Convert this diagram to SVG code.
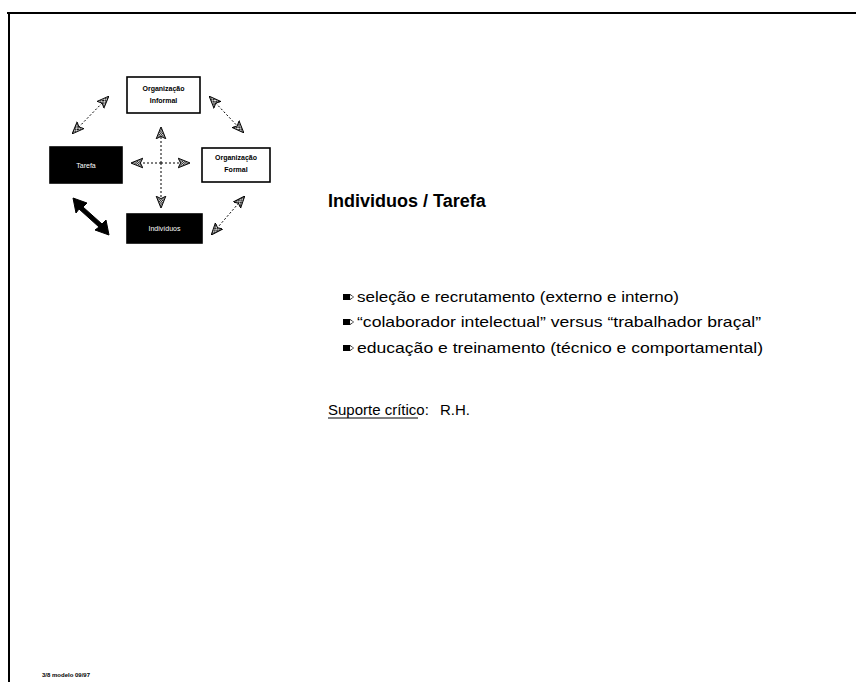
<svg xmlns="http://www.w3.org/2000/svg" width="856" height="682" viewBox="0 0 856 682">
  <style>
    .frame { stroke: #000; stroke-width: 2; fill: none; }
    .box-w { fill: #fff; stroke: #000; stroke-width: 1.6; }
    .box-b { fill: #000; stroke: #000; stroke-width: 1.6; }
    .lbl { font-family: "Liberation Sans", Arial, sans-serif; font-size: 7px; font-weight: bold; text-anchor: middle; }
    .lbl-w { font-family: "Liberation Sans", Arial, sans-serif; font-size: 7px; fill: #fff; text-anchor: middle; }
    .dash { stroke: #000; stroke-width: 1; stroke-dasharray: 2 2; fill: none; }
    .title { font-family: "Liberation Sans", Arial, sans-serif; font-size: 18px; font-weight: bold; }
    .body { font-family: "Liberation Sans", Arial, sans-serif; font-size: 15px; }
    .foot { font-family: "Liberation Sans", Arial, sans-serif; font-size: 6px; font-weight: bold; }
  </style>
  <defs>
    <pattern id="hatch" width="2" height="2" patternUnits="userSpaceOnUse">
      <rect width="2" height="2" fill="#fff"/>
      <rect width="1" height="1" fill="#000"/>
      <rect x="1" y="1" width="1" height="1" fill="#000"/>
    </pattern>
    <marker id="head" viewBox="0 0 10 10" refX="9" refY="5" markerWidth="12" markerHeight="12" orient="auto-start-reverse" markerUnits="userSpaceOnUse">
      <path d="M0,1 L10,5 L0,9 L2,5 Z" fill="url(#hatch)" stroke="#000" stroke-width="0.8"/>
    </marker>
    <g id="pencil">
      <path d="M-10,-3 L-3,-3 L1,0 L-3,3 L-10,3 Z" fill="#000"/>
      <path d="M-3,-2 L0.5,0 L-3,2 Z" fill="#fff"/>
    </g>
  </defs>

  <!-- page frame -->
  <path class="frame" d="M7,13 L856,13 M9,13 L9,682"/>

  <!-- connectors -->
  <g id="connectors">
    <line class="dash" x1="73" y1="133" x2="108" y2="97" marker-start="url(#head)" marker-end="url(#head)"/>
    <line class="dash" x1="210" y1="97" x2="243" y2="132" marker-start="url(#head)" marker-end="url(#head)"/>
    <line class="dash" x1="244" y1="197" x2="212" y2="234" marker-start="url(#head)" marker-end="url(#head)"/>
    <!-- heavy double arrow between Tarefa and Individuos -->
    <path d="M73,198 L87,203 L83,207 L102,224 L106,220 L109,235 L95,230 L99,227 L79,209 L76,213 Z" fill="#000" stroke="#000" stroke-width="1"/>
    <!-- central cross -->
    <line class="dash" x1="161" y1="163" x2="161" y2="128" marker-end="url(#head)" stroke-dasharray="1 2"/>
    <line class="dash" x1="161" y1="163" x2="161" y2="207" marker-end="url(#head)" stroke-dasharray="1 2"/>
    <line class="dash" x1="161" y1="163" x2="132" y2="163" marker-end="url(#head)" stroke-dasharray="1 2"/>
    <line class="dash" x1="161" y1="163" x2="189" y2="163" marker-end="url(#head)" stroke-dasharray="1 2"/>
  </g>

  <g id="org-informal">
    <rect class="box-w" x="127" y="77" width="73" height="36"/>
    <text class="lbl" x="163.5" y="91">Organização</text>
    <text class="lbl" x="163.5" y="103" font-weight="normal">Informal</text>
  </g>

  <g id="tarefa">
    <rect class="box-b" x="50" y="147" width="72" height="36"/>
    <text class="lbl-w" x="86" y="168">Tarefa</text>
  </g>

  <g id="org-formal">
    <rect class="box-w" x="202" y="148" width="68" height="34"/>
    <text class="lbl" x="236" y="160">Organização</text>
    <text class="lbl" x="236" y="172">Formal</text>
  </g>

  <g id="individuos">
    <rect class="box-b" x="127" y="214" width="75" height="29"/>
    <text class="lbl-w" x="164.5" y="231">Indivíduos</text>
  </g>

  <!-- text column -->
  <text class="title" x="328" y="207">Individuos / Tarefa</text>

  <use href="#pencil" x="353" y="297"/>
  <text class="body" x="357" y="302" textLength="322" lengthAdjust="spacingAndGlyphs">seleção e recrutamento (externo e interno)</text>
  <use href="#pencil" x="353" y="322"/>
  <text class="body" x="357" y="327" textLength="404" lengthAdjust="spacingAndGlyphs">“colaborador intelectual” versus “trabalhador braçal”</text>
  <use href="#pencil" x="353" y="348"/>
  <text class="body" x="357" y="353" textLength="406" lengthAdjust="spacingAndGlyphs">educação e treinamento (técnico e comportamental)</text>

  <text class="body" x="328" y="415">Suporte crítico:</text>
  <line x1="328" y1="418" x2="418" y2="418" stroke="#000" stroke-width="1"/>
  <text class="body" x="440" y="415">R.H.</text>

  <text class="foot" x="42" y="677">3/8 modelo 09/97</text>
</svg>
